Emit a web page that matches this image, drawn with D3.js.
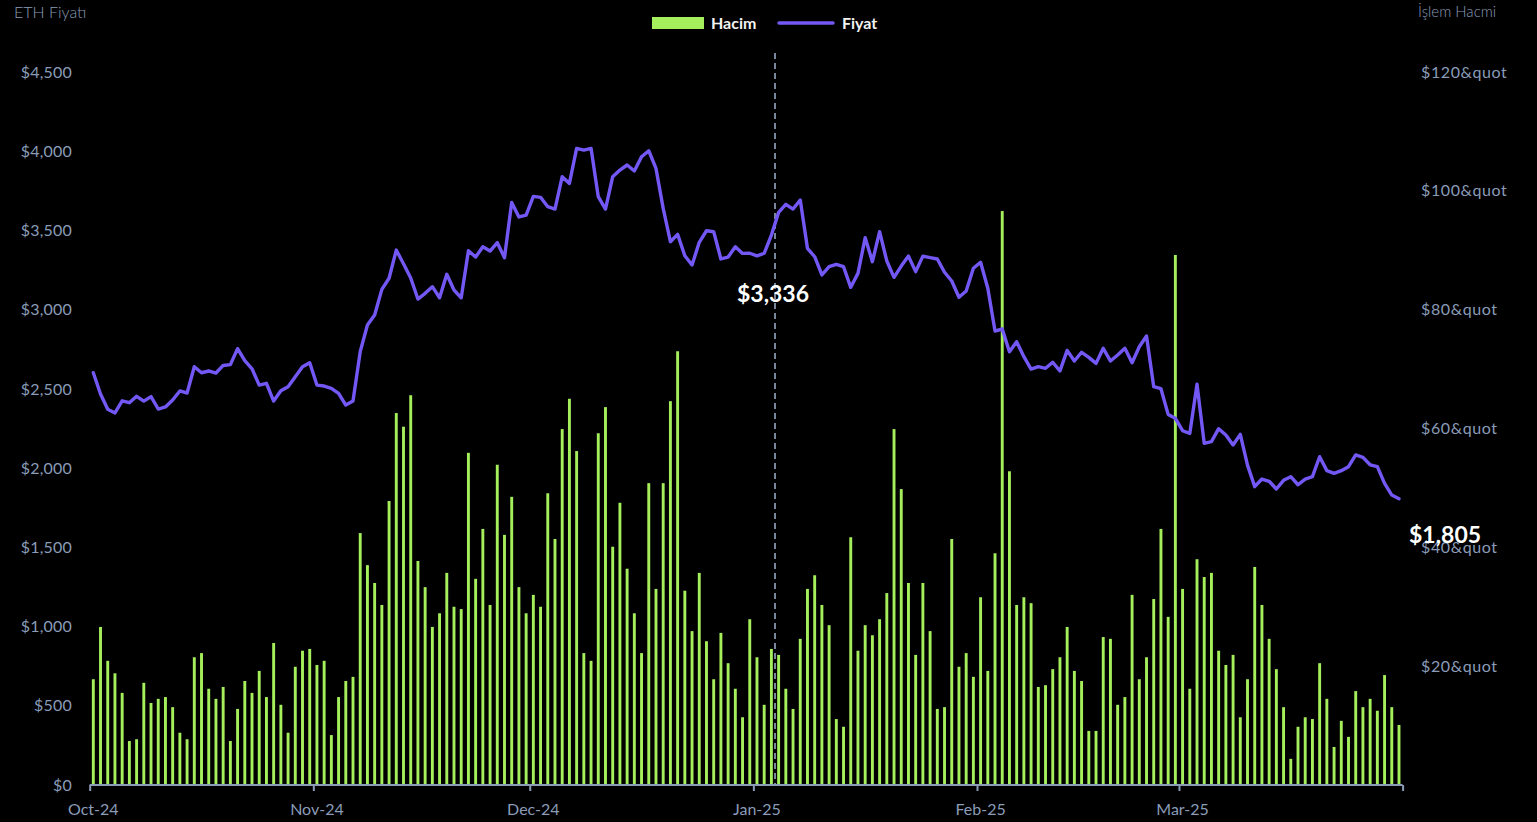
<!DOCTYPE html>
<html><head><meta charset="utf-8">
<script src="https://cdn.jsdelivr.net/npm/d3@7"></script>
<style>html,body{margin:0;background:#000;} svg{display:block;}</style>
</head><body><svg id="c" width="1537" height="822"></svg>
<script>
const startDate = "2024-10-01";
const prices = [
2602,2468,2371,2348,2425,2413,2453,2423,2451,2373,2386,2430,2487,2474,2640,2602,2613,2600,2648,2653,
2754,2678,2627,2524,2535,2423,2488,2514,2577,2640,2665,2524,2518,2503,2472,2398,2423,2735,2903,2966,
3128,3198,3376,3290,3200,3067,3103,3145,3075,3223,3124,3075,3372,3332,3397,3370,3423,3328,3677,3585,
3597,3715,3709,3650,3635,3839,3797,4018,4007,4018,3713,3635,3839,3881,3913,3875,3965,4003,3892,3639,
3429,3475,3340,3282,3425,3498,3492,3320,3332,3397,3355,3356,3340,3356,3471,3614,3665,3635,3692,3387,
3334,3219,3271,3286,3271,3141,3229,3454,3303,3492,3307,3204,3275,3338,3240,3338,3328,3320,3236,3181,
3078,3118,3261,3299,3135,2865,2878,2735,2798,2703,2625,2640,2630,2668,2613,2743,2676,2731,2699,2661,
2756,2676,2714,2756,2665,2766,2834,2514,2501,2339,2314,2236,2219,2529,2156,2167,2249,2209,2146,2213,
2019,1883,1931,1917,1868,1923,1946,1895,1931,1946,2072,1984,1967,1984,2009,2083,2068,2021,2009,1904,
1830,1807];
const volumes = [
17.8,26.6,20.9,18.8,15.5,7.4,7.7,17.2,13.8,14.5,14.8,13.1,8.8,7.7,21.5,22.2,16.2,14.5,16.5,7.4,
12.8,17.5,15.5,19.2,14.8,23.9,13.5,8.8,19.9,22.6,22.9,20.2,20.9,8.4,14.8,17.5,18.2,42.4,37.0,34.0,
30.3,47.8,62.6,60.3,65.6,37.7,33.3,26.6,28.9,35.7,30.0,29.6,55.9,34.7,43.1,30.3,53.9,42.1,48.5,33.3,
28.9,32.0,30.0,49.1,41.4,59.9,65.0,56.2,22.2,20.9,59.2,63.6,40.1,47.5,36.4,28.9,22.2,50.8,33.0,50.8,
64.6,73.0,32.7,25.9,35.7,24.2,17.8,25.6,20.5,16.2,11.4,27.9,21.5,13.5,22.9,21.9,16.2,12.8,24.6,33.0,
35.3,30.3,26.9,11.1,9.8,41.7,22.6,26.9,25.2,27.9,32.3,59.9,49.8,34.0,21.9,34.0,25.9,12.8,13.1,41.4,
19.9,22.2,18.2,31.6,19.2,39.0,96.6,52.8,30.3,31.6,30.6,16.5,16.8,19.5,21.5,26.6,19.2,17.5,9.1,9.1,
24.9,24.6,13.5,14.8,32.0,17.8,21.5,31.3,43.1,28.3,89.2,33.0,16.2,38.0,35.0,35.7,22.6,20.2,21.9,11.4,
17.8,36.7,30.3,24.6,19.5,13.1,4.4,9.8,11.4,11.1,20.5,14.5,6.4,10.8,8.1,15.8,13.1,14.5,12.5,18.5,
13.1,10.1];
const monthTicks = ["2024-10-01","2024-11-01","2024-12-01","2025-01-01","2025-02-01","2025-03-01"];
const monthLabels = ["Oct-24","Nov-24","Dec-24","Jan-25","Feb-25","Mar-25"];
const priceTicks = [0,500,1000,1500,2000,2500,3000,3500,4000,4500];
const volumeTicks = [20,40,60,80,100,120];
const markerDate = "2025-01-04";
const markerValue = 3336;
const markerLabel = "$3,336";
const lastLabel = "$1,805";

const parse = d3.utcParse("%Y-%m-%d");
const t0 = parse(startDate);
const dates = prices.map((_, i) => d3.utcDay.offset(t0, i));
const svg = d3.select("#c");
const W = 1537, H = 822;
svg.append("rect").attr("width", W).attr("height", H).attr("fill", "#000");

const axisColor = "#8a9cb8";
const font = "Lato, 'Open Sans', sans-serif";

const x = d3.scaleUtc().domain([t0, d3.utcDay.offset(t0, prices.length)]).range([89.7, 1402.6]);
const slot = x(d3.utcDay.offset(t0, 1)) - x(t0);
const yL = d3.scaleLinear().domain([0, 4500]).range([785, 72]);
const yR = d3.scaleLinear().domain([0, 120]).range([785, 72]);
const cx = d => x(d) + slot / 2;

// bars
const barW = 2.9;
svg.append("g").selectAll("rect").data(volumes).join("rect")
  .attr("x", (v, i) => cx(dates[i]) - barW / 2)
  .attr("y", v => yR(v))
  .attr("width", barW)
  .attr("height", v => yR(0) - yR(v))
  .attr("fill", "#a6ef5c");

// dashed marker
const mx = x(parse(markerDate));
svg.append("line").attr("x1", mx).attr("x2", mx).attr("y1", 53).attr("y2", yL(0))
  .attr("stroke", "#9fb3cf").attr("stroke-width", 1.5).attr("stroke-dasharray", "6,4");

// price line
const line = d3.line().x((p, i) => cx(dates[i])).y(p => yL(p));
svg.append("path").datum(prices).attr("d", line)
  .attr("fill", "none").attr("stroke", "#7458f5").attr("stroke-width", 3.4)
  .attr("stroke-linejoin", "round").attr("stroke-linecap", "round");

// x axis
const xAxis = d3.axisBottom(x)
  .tickValues(monthTicks.map(parse).concat([d3.utcDay.offset(t0, prices.length)]))
  .tickSize(6).tickFormat("");
const gx = svg.append("g").attr("transform", `translate(0,${yL(0)})`).call(xAxis);
gx.select(".domain").attr("stroke", axisColor).attr("stroke-width", 2).attr("d", `M${x.range()[0]},0H${x.range()[1]}`);
gx.selectAll(".tick line").attr("stroke", axisColor).attr("stroke-width", 2);
svg.append("g").selectAll("text").data(monthTicks).join("text")
  .attr("x", d => cx(parse(d))).attr("y", 815)
  .attr("text-anchor", "middle").attr("fill", axisColor)
  .style("font-family", font).style("font-size", "16px")
  .text((d, i) => monthLabels[i]);

// left axis labels
const leftAxis = d3.axisLeft(yL).tickValues(priceTicks).tickSize(0).tickPadding(0)
  .tickFormat(d => "$" + d3.format(",")(d));
const gl = svg.append("g").attr("transform", "translate(72,0)").call(leftAxis);
gl.select(".domain").remove();
gl.selectAll("text").attr("fill", axisColor).style("font-family", font).style("font-size", "16px")
  .style("letter-spacing", "0.2px");

// right axis labels
const rightAxis = d3.axisRight(yR).tickValues(volumeTicks).tickSize(0).tickPadding(0)
  .tickFormat(d => "$" + d + "&quot");
const gr = svg.append("g").attr("transform", "translate(1421,0)").call(rightAxis);
gr.select(".domain").remove();
gr.selectAll("text").attr("fill", axisColor).style("font-family", font).style("font-size", "16px")
  .style("letter-spacing", "0.6px");

// titles
svg.append("text").attr("x", 14).attr("y", 18).attr("fill", axisColor)
  .style("font-family", font).style("font-size", "16px").style("font-weight", 300).text("ETH Fiyatı");
svg.append("text").attr("x", 1418).attr("y", 17).attr("fill", axisColor)
  .style("font-family", font).style("font-size", "15px").style("font-weight", 300).text("İşlem Hacmi");

// legend
svg.append("rect").attr("x", 652).attr("y", 17).attr("width", 52).attr("height", 12).attr("fill", "#a6ef5c");
svg.append("text").attr("x", 711).attr("y", 29).attr("fill", "#f2f2f2")
  .style("font-family", font).style("font-size", "16px").style("font-weight", 700).text("Hacim");
svg.append("line").attr("x1", 779).attr("x2", 833).attr("y1", 23).attr("y2", 23)
  .attr("stroke", "#7458f5").attr("stroke-width", 3.4).attr("stroke-linecap", "round");
svg.append("text").attr("x", 842).attr("y", 29).attr("fill", "#f2f2f2")
  .style("font-family", font).style("font-size", "16px").style("font-weight", 700).text("Fiyat");

// annotations
svg.append("text").attr("x", mx - 2).attr("y", yL(markerValue) + 46)
  .attr("text-anchor", "middle").attr("fill", "#ffffff")
  .style("font-family", font).style("font-size", "23px").style("font-weight", 700).text(markerLabel);
const li = prices.length - 1;
svg.append("text").attr("x", cx(dates[li]) + 10).attr("y", yL(prices[li]) + 44)
  .attr("fill", "#ffffff")
  .style("font-family", font).style("font-size", "23px").style("font-weight", 700).text(lastLabel);
</script>
</body></html>
